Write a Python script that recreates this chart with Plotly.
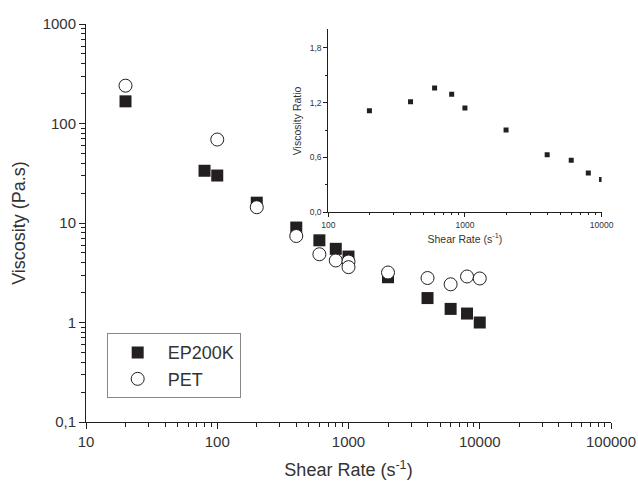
import plotly.graph_objects as go

# ---- data ----
ep_x = [20, 80, 100, 200, 400, 600, 800, 1000, 2000, 4000, 6000, 8000, 10000]
ep_y = [167, 33.5, 30, 16, 9.0, 6.7, 5.5, 4.6, 2.85, 1.76, 1.37, 1.23, 1.0]

pet_x = [20, 100, 200, 400, 600, 800, 1000, 1000, 2000, 4000, 6000, 8000, 10000]
pet_y = [240, 69, 14.4, 7.4, 4.85, 4.2, 4.1, 3.6, 3.18, 2.8, 2.42, 2.9, 2.77]

ratio_x = [200, 400, 600, 800, 1000, 2000, 4000, 6000, 8000, 10000]
ratio_y = [1.11, 1.21, 1.36, 1.29, 1.14, 0.90, 0.63, 0.57, 0.43, 0.36]

main_xticks = [10, 100, 1000, 10000, 100000]
main_xlabels = ["10", "100", "1000", "10000", "100000"]
main_yticks = [0.1, 1, 10, 100, 1000]
main_ylabels = ["0,1", "1", "10", "100", "1000"]
inset_xticks = [100, 1000, 10000]
inset_xlabels = ["100", "1000", "10000"]
inset_yticks = [0.0, 0.6, 1.2, 1.8]
inset_ylabels = ["0,0", "0,6", "1,2", "1,8"]

INK = "#231f20"
TXT = "#333333"
FONT = "Liberation Sans, Arial, sans-serif"


def log_minors(lo_exp, hi_exp):
    return [m * 10 ** e for e in range(lo_exp, hi_exp) for m in range(2, 10)]


fig = go.Figure()
fig.add_trace(go.Scatter(
    x=ep_x, y=ep_y, mode="markers", name="EP200K",
    marker=dict(symbol="square", size=12, color=INK, line=dict(width=0)),
))
fig.add_trace(go.Scatter(
    x=pet_x, y=pet_y, mode="markers", name="PET",
    marker=dict(symbol="circle", size=13, color="white", line=dict(width=1, color=INK)),
))
fig.add_trace(go.Scatter(
    x=ratio_x, y=ratio_y, mode="markers", showlegend=False,
    marker=dict(symbol="square", size=5, color=INK, line=dict(width=0)),
    xaxis="x2", yaxis="y2",
))

axis_common = dict(
    showgrid=False, zeroline=False, showline=True, linecolor=INK, linewidth=1,
    ticks="outside", tickcolor=INK, tickwidth=1, mirror=False,
)

fig.update_layout(
    width=638, height=483,
    margin=dict(l=86, r=27, t=24, b=61, autoexpand=False),
    paper_bgcolor="white", plot_bgcolor="white",
    font=dict(family=FONT, color=TXT),
    showlegend=True,
    legend=dict(
        x=0.0394, y=0.223, xanchor="left", yanchor="top",
        bordercolor="#888888", borderwidth=1, bgcolor="white",
        font=dict(size=18, color=TXT), itemwidth=50,
        tracegroupgap=0,
    ),
    xaxis=dict(
        type="log", range=[1, 5], domain=[0, 1],
        tickvals=main_xticks, ticktext=main_xlabels, ticklen=6,
        tickfont=dict(size=15, color=TXT),
        minor=dict(tickvals=log_minors(1, 5), ticks="outside", ticklen=4, tickcolor=INK),
        title=dict(text="Shear Rate (s<sup>-1</sup>)", font=dict(size=18, color=TXT), standoff=14),
        **axis_common,
    ),
    yaxis=dict(
        type="log", range=[-1, 3], domain=[0, 1],
        tickvals=main_yticks, ticktext=main_ylabels, ticklen=6,
        tickfont=dict(size=15, color=TXT),
        minor=dict(tickvals=log_minors(-1, 3), ticks="outside", ticklen=4, tickcolor=INK),
        title=dict(text="Viscosity (Pa.s)", font=dict(size=18, color=TXT), standoff=12),
        **axis_common,
    ),
    xaxis2=dict(
        type="log", range=[2, 4], domain=[0.4615, 0.982], anchor="y2",
        tickvals=inset_xticks, ticktext=inset_xlabels, ticklen=4,
        tickfont=dict(size=8.5, color=TXT),
        minor=dict(tickvals=log_minors(2, 4), ticks="outside", ticklen=2, tickcolor=INK),
        title=dict(text="Shear Rate (s<sup>-1</sup>)", font=dict(size=10.5, color=TXT), standoff=6),
        **axis_common,
    ),
    yaxis2=dict(
        range=[0, 2.0], domain=[0.5265, 0.9867], anchor="x2",
        tickvals=inset_yticks, ticktext=inset_ylabels, ticklen=4,
        tickfont=dict(size=8.5, color=TXT),
        minor=dict(tickvals=[0.3, 0.9, 1.5], ticks="outside", ticklen=2, tickcolor=INK),
        title=dict(text="Viscosity Ratio", font=dict(size=10.5, color=TXT), standoff=6),
        **axis_common,
    ),
)

fig.write_html(
    "out.html",
    config={"displayModeBar": False},
    post_script="document.body.style.margin='0';document.body.style.padding='0';",
)
